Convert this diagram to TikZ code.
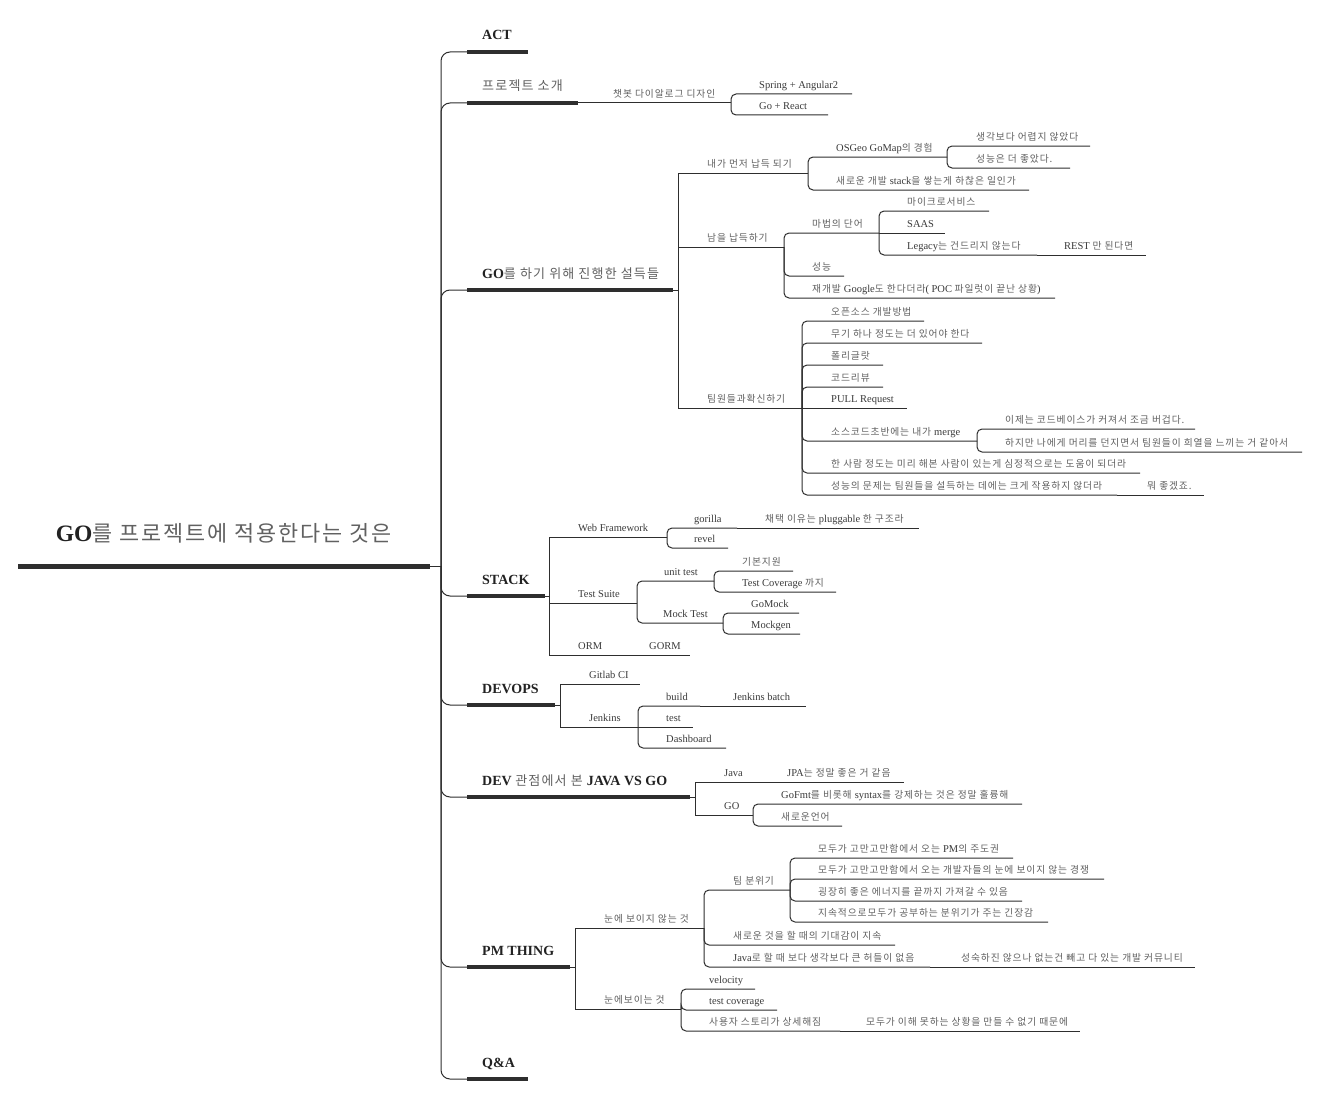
\documentclass[tikz,border=0pt]{standalone}
\usepackage{fontspec}
\setmainfont{Liberation Serif}
\newfontfamily\krfont[Scale=0.93,LetterSpace=9]{Noto Sans CJK KR}
\definecolor{ln}{HTML}{2E2E2E}
\definecolor{txt}{HTML}{3A3A3A}
\definecolor{dark}{HTML}{222222}
\definecolor{krgray}{HTML}{616161}
% Hangul runs are set in the CJK family, regular weight
\newcommand\K[1]{{\krfont\mdseries\color{krgray}#1}}

\tikzset{
  leaf/.style={anchor=base west, inner sep=0pt, font=\fontsize{10.5}{12}\selectfont, text=txt},
  major/.style={anchor=base west, inner sep=0pt, font=\fontsize{14}{16}\selectfont\bfseries, text=dark},
  rootlabel/.style={anchor=base, inner sep=0pt, font=\fontsize{23.5}{26}\selectfont\bfseries, text=dark},
  link/.style={draw=ln, line width=1pt, rounded corners=5pt},
  sharp/.style={draw=ln, line width=1pt},
  spine/.style={draw=ln, line width=1pt, rounded corners=9pt},
  bar/.style={draw=ln, line width=4pt},
  rootbar/.style={draw=ln, line width=5pt}
}

% topic: name, text x, underline y, underline end x, label
\newcommand\tp[5]{\node[leaf] (#1) at (#2,#3-5.5) {#5};\coordinate (#1-e) at (#4,#3);}
% main branch: name, underline y, underline end x, label
\newcommand\mt[4]{\node[major] (#1) at (482,#2-12) {#4};%
  \coordinate (#1-s) at (467,#2);\coordinate (#1-e) at (#3,#2);%
  \draw[bar] (#1-s) -- (#1-e);\draw[spine] (hub) |- (#1-s);}

\begin{document}
\begin{tikzpicture}[x=1pt,y=-1pt]
\useasboundingbox[fill=white] (0,0) rectangle (1319,1097);

% central topic
\node[rootlabel] (root) at (224,541) {GO\K{를 프로젝트에 적용한다는 것은}};
\coordinate (root-s) at (18,566);
\coordinate (root-e) at (430,566);
\coordinate (hub) at (441,566);
\draw[rootbar] (root-s) -- (root-e);
\draw[sharp] (root-e) -- (hub);

% main branches
\mt{act}{52}{528}{ACT}
\mt{proj}{103}{578}{\K{프로젝트 소개}}
\mt{go}{290}{673}{GO\K{를 하기 위해 진행한 설득들}}
\mt{stack}{596}{545}{STACK}
\mt{devops}{705}{555}{DEVOPS}
\mt{dev}{797}{690}{DEV \K{ 관점에서 본 }JAVA VS GO}
\mt{pm}{967}{570}{PM THING}
\mt{qa}{1079}{528}{Q\&A}

% project introduction
\tp{chat}{613}{103}{731}{\K{챗봇 다이알로그 디자인}}
\tp{spring}{759}{94}{852}{Spring + Angular2}
\tp{react}{759}{115}{828}{Go + React}
\draw[sharp] (proj-e) -- (chat-e);
\draw[link] (chat-e) |- (spring-e);
\draw[link] (chat-e) |- (react-e);

% persuasion
\coordinate (go-j) at (678,290);
\draw[sharp] (go-e) -- (go-j);
\tp{me}{707}{173}{808}{\K{내가 먼저 납득 되기}}
\tp{osgeo}{836}{157}{947}{OSGeo GoMap\K{의 경험}}
\tp{easy}{976}{146}{1090}{\K{생각보다 어렵지 않았다}}
\tp{perfa}{976}{168}{1070}{\K{성능은 더 좋았다.}}
\tp{newstack}{836}{190}{1029}{\K{새로운 개발 }stack\K{을 쌓는게 하찮은 일인가}}
\tp{others}{707}{247}{784}{\K{남을 납득하기}}
\tp{magic}{812}{233}{879}{\K{마법의 단어}}
\tp{msa}{907}{211}{989}{\K{마이크로서비스}}
\tp{saas}{907}{233}{945}{SAAS}
\tp{legacy}{907}{255}{1037}{Legacy\K{는 건드리지 않는다}}
\tp{rest}{1064}{255}{1146}{REST \K{만 된다면}}
\tp{perfb}{812}{276}{844}{\K{성능}}
\tp{google}{812}{298}{1055}{\K{재개발 }Google\K{도 한다더라}( POC \K{파일럿이 끝난 상황})}
\tp{team}{707}{408}{802}{\K{팀원들과확신하기}}
\tp{oss}{831}{321}{924}{\K{오픈소스 개발방법}}
\tp{weapon}{831}{343}{982}{\K{무기 하나 정도는 더 있어야 한다}}
\tp{poly}{831}{365}{883}{\K{폴리글랏}}
\tp{review}{831}{387}{883}{\K{코드리뷰}}
\tp{pull}{831}{408}{907}{PULL Request}
\tp{merge}{831}{441}{977}{\K{소스코드초반에는 내가 }merge}
\tp{heavy}{1005}{429}{1195}{\K{이제는 코드베이스가 커져서 조금 버겁다.}}
\tp{joy}{1005}{452}{1302}{\K{하지만 나에게 머리를 던지면서 팀원들이 희열을 느끼는 거 같아서}}
\tp{mentor}{831}{473}{1140}{\K{한 사람 정도는 미리 해본 사람이 있는게 심정적으로는 도움이 되더라}}
\tp{perfc}{831}{495}{1117}{\K{성능의 문제는 팀원들을 설득하는 데에는 크게 작용하지 않더라}}
\tp{good}{1147}{495}{1204}{\K{뭐 좋겠죠.}}

\draw[sharp] (go-j) |- (me-e);
\draw[sharp] (go-j) |- (others-e);
\draw[sharp] (go-j) |- (team-e);
\draw[link] (me-e) |- (osgeo-e);
\draw[link] (me-e) |- (newstack-e);
\draw[link] (osgeo-e) |- (easy-e);
\draw[link] (osgeo-e) |- (perfa-e);
\draw[link] (others-e) |- (magic-e);
\draw[link] (others-e) |- (perfb-e);
\draw[link] (others-e) |- (google-e);
\draw[link] (magic-e) |- (msa-e);
\draw[sharp] (magic-e) -- (saas-e);
\draw[link] (magic-e) |- (legacy-e);
\draw[sharp] (legacy-e) -- (rest-e);
\draw[link] (team-e) |- (oss-e);
\draw[link] (team-e) |- (weapon-e);
\draw[link] (team-e) |- (poly-e);
\draw[link] (team-e) |- (review-e);
\draw[sharp] (team-e) -- (pull-e);
\draw[link] (team-e) |- (merge-e);
\draw[link] (team-e) |- (mentor-e);
\draw[link] (team-e) |- (perfc-e);
\draw[link] (merge-e) |- (heavy-e);
\draw[link] (merge-e) |- (joy-e);
\draw[sharp] (perfc-e) -- (good-e);

% stack
\coordinate (stack-j) at (549,596);
\draw[sharp] (stack-e) -- (stack-j);
\tp{web}{578}{537}{667}{Web Framework}
\tp{gorilla}{694}{528}{737}{gorilla}
\tp{plug}{765}{528}{919}{\K{채택 이유는 }pluggable \K{한 구조라}}
\tp{revel}{694}{548}{728}{revel}
\tp{suite}{578}{603}{637}{Test Suite}
\tp{unit}{664}{581}{714}{unit test}
\tp{basic}{742}{571}{793}{\K{기본지원}}
\tp{cover}{742}{592}{836}{Test Coverage \K{까지}}
\tp{mock}{663}{623}{723}{Mock Test}
\tp{gomock}{751}{613}{799}{GoMock}
\tp{mockgen}{751}{634}{800}{Mockgen}
\tp{orm}{578}{655}{620}{ORM}
\tp{gorm}{649}{655}{690}{GORM}

\draw[sharp] (stack-j) |- (web-e);
\draw[sharp] (stack-j) |- (suite-e);
\draw[sharp] (stack-j) |- (orm-e);
\draw[link] (web-e) |- (gorilla-e);
\draw[link] (web-e) |- (revel-e);
\draw[sharp] (gorilla-e) -- (plug-e);
\draw[link] (suite-e) |- (unit-e);
\draw[link] (suite-e) |- (mock-e);
\draw[link] (unit-e) |- (basic-e);
\draw[link] (unit-e) |- (cover-e);
\draw[link] (mock-e) |- (gomock-e);
\draw[link] (mock-e) |- (mockgen-e);
\draw[sharp] (orm-e) -- (gorm-e);

% devops
\coordinate (devops-j) at (560,705);
\draw[sharp] (devops-e) -- (devops-j);
\tp{gitlab}{589}{684}{640}{Gitlab CI}
\tp{jenkins}{589}{727}{638}{Jenkins}
\tp{build}{666}{706}{700}{build}
\tp{jbatch}{733}{706}{806}{Jenkins batch}
\tp{test}{666}{727}{693}{test}
\tp{dash}{666}{748}{726}{Dashboard}

\draw[sharp] (devops-j) |- (gitlab-e);
\draw[sharp] (devops-j) |- (jenkins-e);
\draw[link] (jenkins-e) |- (build-e);
\draw[sharp] (jenkins-e) -- (test-e);
\draw[link] (jenkins-e) |- (dash-e);
\draw[sharp] (build-e) -- (jbatch-e);

% java vs go
\coordinate (dev-j) at (695,797);
\draw[sharp] (dev-e) -- (dev-j);
\tp{java}{724}{782}{776}{Java}
\tp{jpa}{787}{782}{904}{JPA\K{는 정말 좋은 거 같음}}
\tp{golang}{724}{815}{753}{GO}
\tp{gofmt}{781}{804}{1022}{GoFmt\K{를 비롯해 }syntax\K{를 강제하는 것은 정말 훌륭해}}
\tp{newlang}{781}{826}{842}{\K{새로운언어}}

\draw[sharp] (dev-j) |- (java-e);
\draw[sharp] (dev-j) |- (golang-e);
\draw[sharp] (java-e) -- (jpa-e);
\draw[link] (golang-e) |- (gofmt-e);
\draw[link] (golang-e) |- (newlang-e);

% pm thing
\coordinate (pm-j) at (575,967);
\draw[sharp] (pm-e) -- (pm-j);
\tp{unseen}{604}{928}{704}{\K{눈에 보이지 않는 것}}
\tp{mood}{733}{890}{790}{\K{팀 분위기}}
\tp{lead}{818}{858}{1013}{\K{모두가 고만고만함에서 오는 }PM\K{의 주도권}}
\tp{compete}{818}{879}{1104}{\K{모두가 고만고만함에서 오는 개발자들의 눈에 보이지 않는 경쟁}}
\tp{energy}{818}{901}{1022}{\K{굉장히 좋은 에너지를 끝까지 가져갈 수 있음}}
\tp{tension}{818}{922}{1048}{\K{지속적으로모두가 공부하는 분위기가 주는 긴장감}}
\tp{expect}{733}{945}{895}{\K{새로운 것을 할 때의 기대감이 지속}}
\tp{hurdle}{733}{967}{930}{Java\K{로 할 때 보다 생각보다 큰 허들이 없음}}
\tp{community}{961}{967}{1195}{\K{성숙하진 않으나 없는건 빼고 다 있는 개발 커뮤니티}}
\tp{seen}{604}{1009}{681}{\K{눈에보이는 것}}
\tp{velocity}{709}{989}{755}{velocity}
\tp{tcov}{709}{1010}{777}{test coverage}
\tp{story}{709}{1031}{840}{\K{사용자 스토리가 상세해짐}}
\tp{because}{866}{1031}{1080}{\K{모두가 이해 못하는 상황을 만들 수 없기 때문에}}

\draw[sharp] (pm-j) |- (unseen-e);
\draw[sharp] (pm-j) |- (seen-e);
\draw[link] (unseen-e) |- (mood-e);
\draw[link] (unseen-e) |- (expect-e);
\draw[link] (unseen-e) |- (hurdle-e);
\draw[link] (mood-e) |- (lead-e);
\draw[link] (mood-e) |- (compete-e);
\draw[link] (mood-e) |- (energy-e);
\draw[link] (mood-e) |- (tension-e);
\draw[sharp] (hurdle-e) -- (community-e);
\draw[link] (seen-e) |- (velocity-e);
\draw[link] (seen-e) |- (tcov-e);
\draw[link] (seen-e) |- (story-e);
\draw[sharp] (story-e) -- (because-e);
\end{tikzpicture}
\end{document}
